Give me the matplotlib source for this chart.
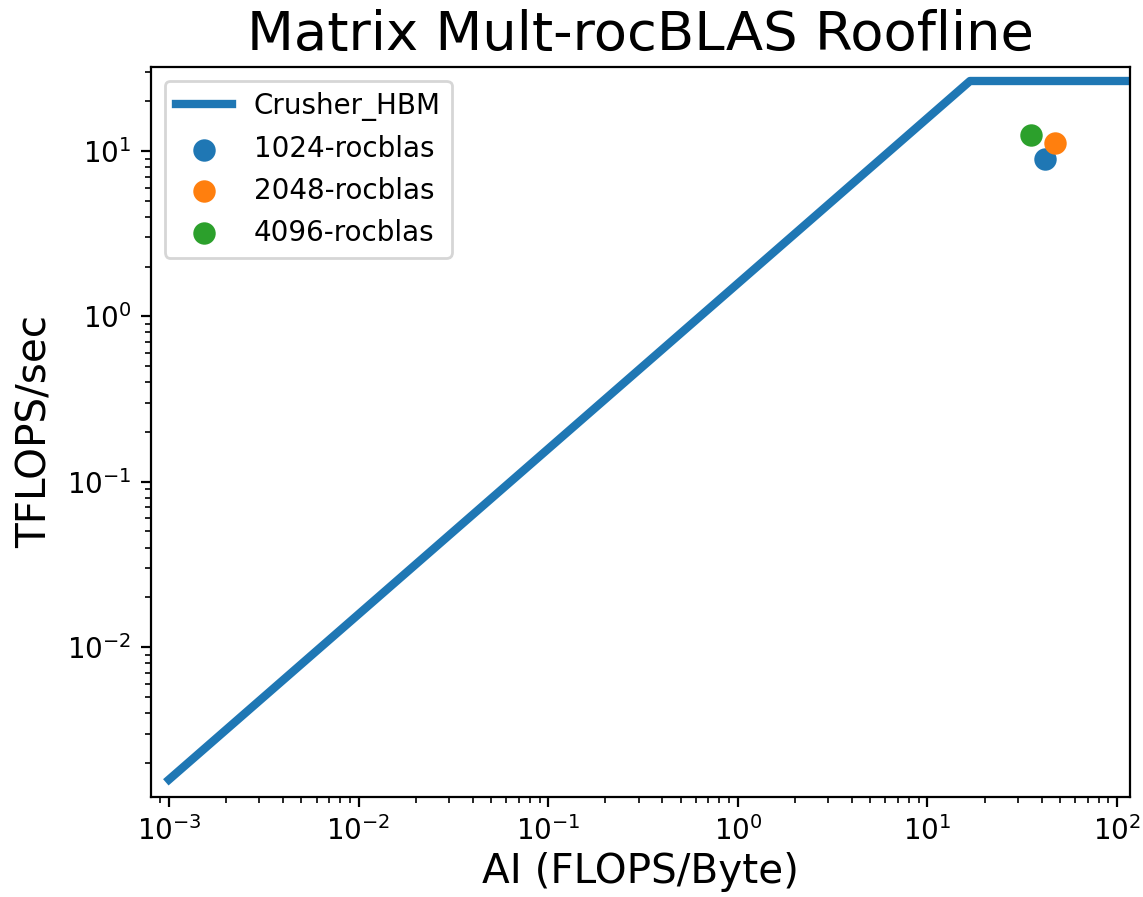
import matplotlib
matplotlib.use("Agg")
import matplotlib.pyplot as plt
import numpy as np

# roofline parameters (TFLOPS, TB/s)
peak_tflops = 26.5
hbm_bw = 1.58
ai_min = 1e-3
ai_max = 200.0

# measured kernels: AI (FLOPS/Byte), TFLOPS/sec
labels = ["1024-rocblas", "2048-rocblas", "4096-rocblas"]
ai_pts = [41.7, 47.1, 35.2]
tflops_pts = [8.95, 11.2, 12.5]

knee = peak_tflops / hbm_bw
roof_x = [ai_min, knee, ai_max]
roof_y = [ai_min * hbm_bw, peak_tflops, peak_tflops]

fig = plt.figure(figsize=(5.715, 4.485), dpi=200)
ax = fig.add_axes([0.1321, 0.1115, 0.8565, 0.8138])

ax.plot(roof_x, roof_y, linewidth=3, label="Crusher_HBM")
for lab, x, y in zip(labels, ai_pts, tflops_pts):
    ax.scatter(x, y, s=50, label=lab)

ax.set_xscale("log")
ax.set_yscale("log")
ax.set_xlim(0.000804, 117)
ax.set_ylim(0.00124, 32.2)
ax.set_title("Matrix Mult-rocBLAS Roofline", fontsize=19.6)
ax.set_xlabel("AI (FLOPS/Byte)", fontsize=14.6, labelpad=2)
ax.set_ylabel("TFLOPS/sec", fontsize=14.6)
ax.legend(loc="upper left")

fig.savefig("out.png", dpi=200)
